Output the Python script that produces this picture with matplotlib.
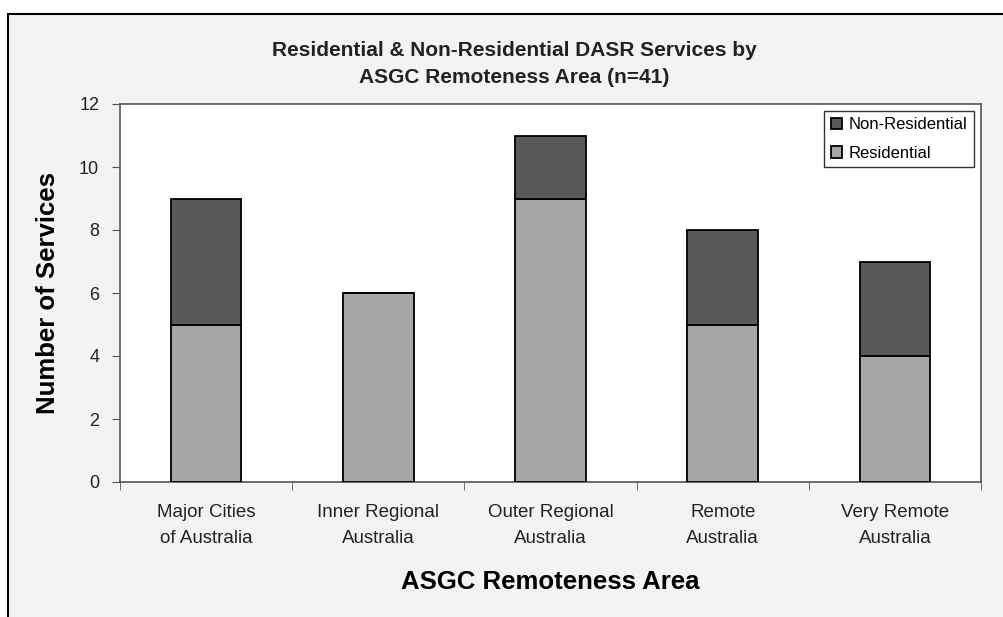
import numpy as np
import matplotlib.pyplot as plt
from matplotlib.patches import Rectangle

plt.rcParams['font.family'] = ['Liberation Sans', 'DejaVu Sans']

areas = ['Major Cities\nof Australia', 'Inner Regional\nAustralia', 'Outer Regional\nAustralia',
         'Remote\nAustralia', 'Very Remote\nAustralia']
residential = np.array([5, 6, 9, 5, 4])
non_residential = np.array([4, 0, 2, 3, 3])

W, H = 1004, 617
fig = plt.figure(figsize=(W / 100, H / 100), dpi=100, facecolor='white')

# grey chart-area frame (right and bottom edges run off the picture)
frame = Rectangle((8 / W, -0.1), 1.2, 1.1 - 14 / H, transform=fig.transFigure,
                  facecolor='#f3f3f3', edgecolor='black', linewidth=1.5, zorder=-10)
fig.patches.append(frame)

ax = fig.add_axes([120 / W, 1 - 482 / H, (981 - 120) / W, (482 - 104) / H])
ax.set_facecolor('white')

x = np.arange(len(areas))
ax.bar(x, residential, width=0.41, color='#a6a6a6', edgecolor='black', linewidth=1.3,
       label='Residential', zorder=3)
ax.bar(x, non_residential, width=0.41, bottom=residential, color='#595959',
       edgecolor='black', linewidth=1.3, label='Non-Residential', zorder=3)

ax.set_xlim(-0.5, len(areas) - 0.5)
ax.set_ylim(0, 12)
ax.set_yticks(range(0, 13, 2))
ax.set_xticks(x)
ax.set_xticklabels(areas, fontsize=13.5, linespacing=1.65, color='#222222')
ax.set_xticks(np.arange(-0.5, len(areas)), minor=True)
ax.tick_params(axis='x', which='major', length=0, pad=16)
ax.tick_params(axis='x', which='minor', length=6, direction='out', color='#555555')
ax.tick_params(axis='y', length=6, direction='out', labelsize=13, color='#555555',
               labelcolor='#222222', pad=9)
for s in ax.spines.values():
    s.set_color('#555555')
    s.set_linewidth(1.2)

ax.set_ylabel('Number of Services', fontsize=18.5, fontweight='bold', labelpad=14)
ax.set_xlabel('ASGC Remoteness Area', fontsize=18.5, fontweight='bold', labelpad=17)

fig.text(514 / W, 1 - 64 / H,
         'Residential & Non-Residential DASR Services by\nASGC Remoteness Area (n=41)',
         ha='center', va='center', fontsize=15, fontweight='bold', linespacing=1.55,
         color='#222222')

handles, labels = ax.get_legend_handles_labels()
leg = ax.legend(handles[::-1], labels[::-1], loc='upper right', fontsize=12,
                frameon=True, fancybox=False, edgecolor='black', handlelength=0.7,
                handleheight=0.7, handletextpad=0.4, labelspacing=0.8,
                borderaxespad=0.4, borderpad=0.4)
leg.get_frame().set_linewidth(1.0)

fig.savefig('out.png', dpi=100, facecolor=fig.get_facecolor())
